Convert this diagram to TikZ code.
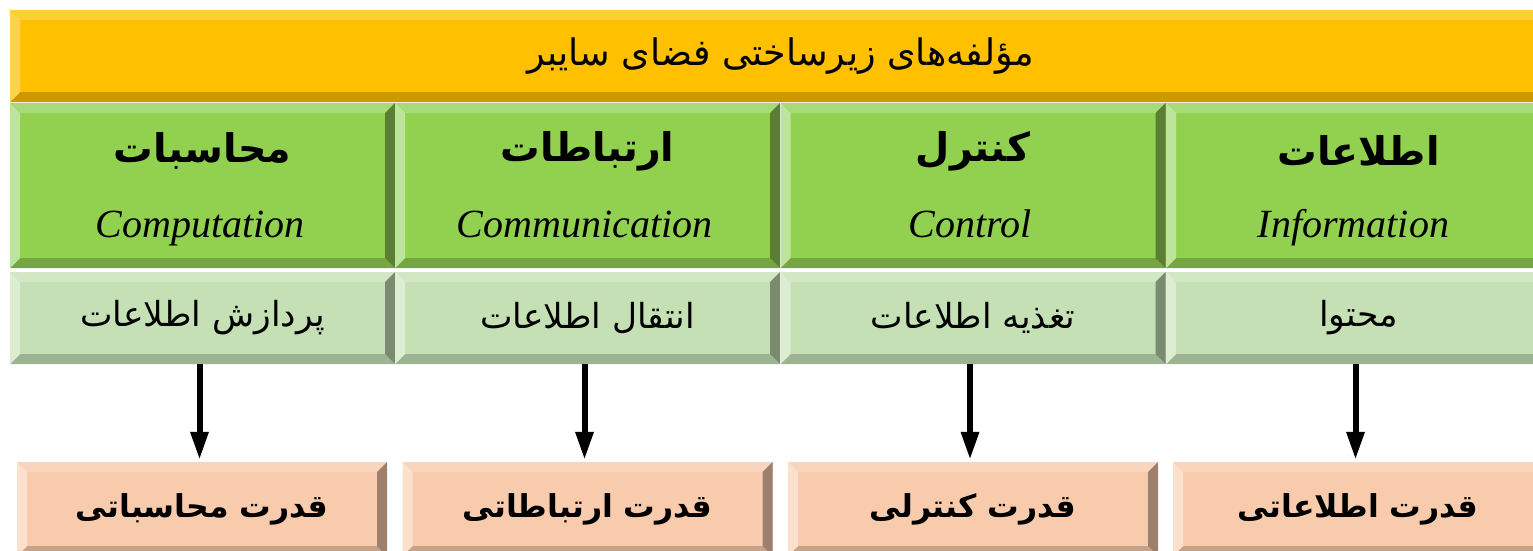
\documentclass[tikz,border=0pt]{standalone}
\usepackage{fontspec}
\setmainfont{Liberation Serif}
\newfontfamily\fa[Script=Arabic]{DejaVu Sans}
\TeXXeTstate=1
\usetikzlibrary{arrows.meta}
\definecolor{orM}{HTML}{FFC000}\definecolor{orT}{HTML}{FFCF33}\definecolor{orL}{HTML}{FFD24D}\definecolor{orR}{HTML}{CC9A00}\definecolor{orB}{HTML}{CC9A00}
\definecolor{grM}{HTML}{92D050}\definecolor{grT}{HTML}{A6DB78}\definecolor{grL}{HTML}{BCE49A}\definecolor{grR}{HTML}{5B7D34}\definecolor{grB}{HTML}{75A640}
\definecolor{lgM}{HTML}{C5E0B4}\definecolor{lgT}{HTML}{D3E7C6}\definecolor{lgL}{HTML}{DCEDD2}\definecolor{lgR}{HTML}{7B8B6F}\definecolor{lgB}{HTML}{9EB391}
\definecolor{saM}{HTML}{F8CBAD}\definecolor{saT}{HTML}{F9D5BE}\definecolor{saL}{HTML}{FCE0CE}\definecolor{saR}{HTML}{9C7F6C}\definecolor{saB}{HTML}{C6A28A}
\newcommand{\bw}{10pt}
\tikzset{
  bev/.style n args={5}{fill=#1, draw=none, inner sep=0pt, path picture={
    \fill[#2] (path picture bounding box.north west) -- (path picture bounding box.north east)
      -- ([shift={(-\bw,-\bw)}]path picture bounding box.north east) -- ([shift={(\bw,-\bw)}]path picture bounding box.north west) -- cycle;
    \fill[#5] (path picture bounding box.south west) -- (path picture bounding box.south east)
      -- ([shift={(-\bw,\bw)}]path picture bounding box.south east) -- ([shift={(\bw,\bw)}]path picture bounding box.south west) -- cycle;
    \fill[#3] (path picture bounding box.north west) -- ([shift={(\bw,-\bw)}]path picture bounding box.north west)
      -- ([shift={(\bw,\bw)}]path picture bounding box.south west) -- (path picture bounding box.south west) -- cycle;
    \fill[#4] (path picture bounding box.north east) -- ([shift={(-\bw,-\bw)}]path picture bounding box.north east)
      -- ([shift={(-\bw,\bw)}]path picture bounding box.south east) -- (path picture bounding box.south east) -- cycle;
  }},
  topbar/.style={bev={orM}{orT}{orL}{orR}{orB}, minimum width=1541pt, minimum height=92pt, font=\fa\fontsize{36.5}{42}\selectfont},
  greenbox/.style={bev={grM}{grT}{grL}{grR}{grB}, minimum width=385pt, minimum height=165pt},
  lightbox/.style={bev={lgM}{lgT}{lgL}{lgR}{lgB}, minimum width=385pt, minimum height=92pt, font=\fa\fontsize{34.5}{40}\selectfont},
  salmonbox/.style={bev={saM}{saT}{saL}{saR}{saB}, minimum width=370pt, minimum height=94pt, font=\fa\bfseries\fontsize{31.5}{38}\selectfont},
  fatitle/.style={inner sep=0pt, font=\fa\bfseries\fontsize{39.5}{46}\selectfont},
  entitle/.style={inner sep=0pt, anchor=base, font=\itshape\fontsize{40}{48}\selectfont},
  arr/.style={line width=6pt, -{Triangle[width=17pt,length=28pt]}, shorten >=2pt}
}
\begin{document}
\begin{tikzpicture}[x=1pt,y=-1pt]
\useasboundingbox (0,0) rectangle (1533,551);
\clip (0,0) rectangle (1533,551);
\node[topbar] (top) at (780.5,56) {\beginR مؤلفه‌های زیرساختی فضای سایبر\endR};
% green boxes
\node[greenbox] (g1) at (202.5,185.5) {};
\node[greenbox] (g2) at (587.5,185.5) {};
\node[greenbox] (g3) at (973,185.5) {};
\node[greenbox] (g4) at (1358.5,185.5) {};
\node[fatitle] (g1f) at (202.5,151) {\beginR محاسبات\endR};
\node[fatitle] (g2f) at (587.5,151) {\beginR ارتباطات\endR};
\node[fatitle] (g3f) at (973,151) {\beginR کنترل\endR};
\node[fatitle] (g4f) at (1358.5,151) {\beginR اطلاعات\endR};
\node[entitle] (g1e) at (200,237) {Computation};
\node[entitle] (g2e) at (584.5,237) {Communication};
\node[entitle] (g3e) at (970,237) {Control};
\node[entitle] (g4e) at (1353.5,237) {Information};
% light green boxes
\node[lightbox] (l1) at (202.5,318) {\beginR پردازش اطلاعات\endR};
\node[lightbox] (l2) at (587.5,318) {\beginR انتقال اطلاعات\endR};
\node[lightbox] (l3) at (973,318) {\beginR تغذیه اطلاعات\endR};
\node[lightbox] (l4) at (1358.5,318) {\beginR محتوا\endR};
% salmon boxes
\node[salmonbox] (s1) at (202,509) {\beginR قدرت محاسباتی\endR};
\node[salmonbox] (s2) at (587.5,509) {\beginR قدرت ارتباطاتی\endR};
\node[salmonbox] (s3) at (973,509) {\beginR قدرت کنترلی\endR};
\node[salmonbox] (s4) at (1358,509) {\beginR قدرت اطلاعاتی\endR};
% arrows
\foreach \i in {1,2,3,4}{
  \draw[arr] ([xshift=-3pt]l\i.south) -- ([xshift=-3pt]l\i.south |- s\i.north);
}
\end{tikzpicture}
\end{document}
